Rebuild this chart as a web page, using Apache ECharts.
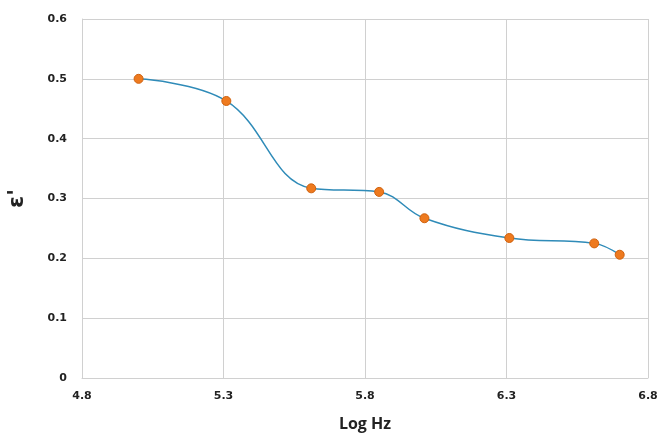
<!DOCTYPE html>
<html>
<head>
<meta charset="UTF-8">
<script src="https://cdn.jsdelivr.net/npm/echarts@6/dist/echarts.min.js"></script>
<style>
    html, body {margin: 0; padding: 0; background: #ffffff;}
    #chart {width: 659px; height: 434px;}
</style>
</head>
<body>
<div id="chart"></div>
<script>
    /*数据*/
    var logHz = [5.0, 5.31, 5.61, 5.85, 6.01, 6.31, 6.61, 6.7];
    var epsilon = [0.5, 0.463, 0.317, 0.311, 0.267, 0.234, 0.225, 0.206];
    var xTicks = ['4.8', '5.3', '5.8', '6.3', '6.8'];
    var yTicks = ['0', '0.1', '0.2', '0.3', '0.4', '0.5', '0.6'];

    var points = logHz.map(function (x, i) {
        return [x, epsilon[i]];
    });

    var chart = echarts.init(document.getElementById('chart'));
    var option = {
        backgroundColor: '#ffffff',
        animation: false,
        grid: {
            left: 82,
            right: 11,
            top: 19,
            bottom: 56,
            outerBoundsMode: 'none'
        },
        xAxis: {
            type: 'value',
            min: 4.8,
            max: 6.8,
            interval: 0.5,
            name: 'Log Hz',
            nameLocation: 'middle',
            nameGap: 38,
            nameTextStyle: {
                fontFamily: 'Open Sans',
                fontWeight: 'bold',
                fontSize: 16,
                color: '#222'
            },
            axisLine: {show: true, lineStyle: {color: '#d0d0d0', width: 1}},
            axisTick: {show: false},
            axisLabel: {
                margin: 13,
                fontFamily: 'DejaVu Sans',
                fontWeight: 'bold',
                fontSize: 11,
                color: '#222',
                formatter: function (v) {
                    var s = v.toFixed(1);
                    return xTicks.indexOf(s) >= 0 ? s : '';
                }
            },
            splitLine: {show: true, lineStyle: {color: '#d0d0d0', width: 1}}
        },
        yAxis: {
            type: 'value',
            min: 0,
            max: 0.6,
            interval: 0.1,
            name: "ε'",
            nameLocation: 'middle',
            nameGap: 54,
            nameRotate: 90,
            nameTextStyle: {
                fontFamily: 'DejaVu Sans',
                fontWeight: 'bold',
                fontSize: 22,
                color: '#222'
            },
            axisLine: {show: true, lineStyle: {color: '#d0d0d0', width: 1}},
            axisTick: {show: false},
            axisLabel: {
                margin: 15,
                fontFamily: 'DejaVu Sans',
                fontWeight: 'bold',
                fontSize: 11,
                color: '#222',
                formatter: function (v) {
                    var i = Math.round(v * 10);
                    return yTicks[i];
                }
            },
            splitLine: {show: true, lineStyle: {color: '#d0d0d0', width: 1}}
        },
        series: [{
            type: 'line',
            data: points,
            smooth: 0.4,
            symbol: 'circle',
            symbolSize: 9,
            lineStyle: {color: '#2f8bb8', width: 1.5},
            itemStyle: {color: '#ee7a1f', borderColor: '#d0620e', borderWidth: 1}
        }]
    };
    chart.setOption(option);

    window.addEventListener('resize', function () {
        chart.resize();
    });
</script>
</body>
</html>
